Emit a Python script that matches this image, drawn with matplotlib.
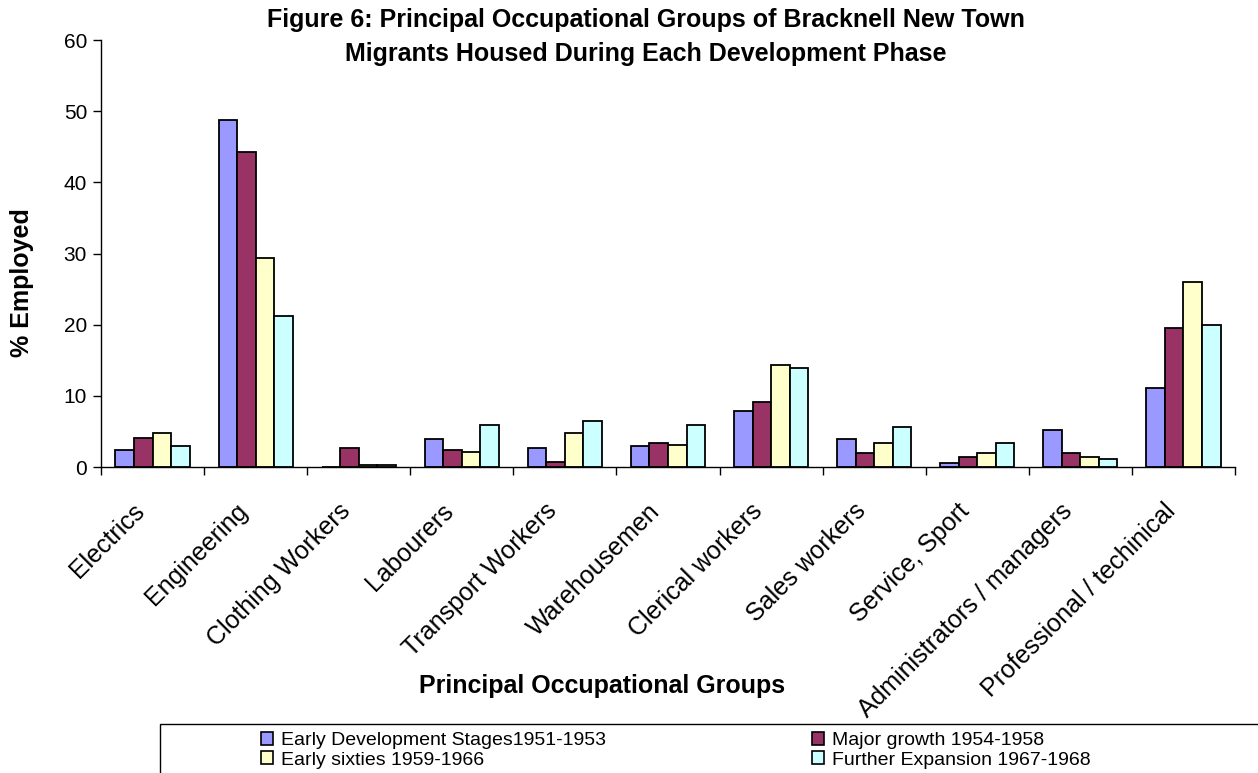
import matplotlib
matplotlib.use("Agg")
import matplotlib.pyplot as plt
import matplotlib.transforms as mtransforms
from matplotlib.patches import Rectangle
import numpy as np

plt.rcParams['font.family'] = ['Liberation Sans', 'DejaVu Sans']

# occupational groups and % employed per development phase
groups = ["Electrics", "Engineering", "Clothing Workers", "Labourers",
          "Transport Workers", "Warehousemen", "Clerical workers",
          "Sales workers", "Service, Sport", "Administrators / managers",
          "Professional / techinical"]
phases = ["Early Development Stages1951-1953", "Major growth 1954-1958",
          "Early sixties 1959-1966", "Further Expansion 1967-1968"]
early_dev = [2.4, 48.8, 0.0, 4.0, 2.7, 3.0, 7.8, 3.9, 0.5, 5.2, 11.1]
major_growth = [4.1, 44.2, 2.6, 2.4, 0.65, 3.4, 9.2, 2.0, 1.45, 2.0, 19.5]
early_sixties = [4.8, 29.3, 0.35, 2.1, 4.8, 3.1, 14.3, 3.4, 2.0, 1.45, 26.0]
further_exp = [3.0, 21.2, 0.25, 5.85, 6.4, 5.85, 13.95, 5.6, 3.4, 1.1, 20.0]
colours = ['#9999FF', '#993366', '#FFFFCC', '#CCFFFF']

W, H = 1258, 773
fig = plt.figure(figsize=(W / 100, H / 100), dpi=100)
ax = fig.add_axes([101 / W, 1 - 467 / H, (1235 - 101) / W, (467 - 40) / H])

series = [early_dev, major_growth, early_sixties, further_exp]
xs = np.arange(len(groups))
width = 0.18
for i, (vals, col, name) in enumerate(zip(series, colours, phases)):
    ax.bar(xs + (i - 1.5) * width, vals, width, color=col, edgecolor='black',
           linewidth=1.3, label=name)

ax.set_xlim(-0.5, len(groups) - 0.5)
ax.set_ylim(0, 60)
ax.set_yticks(range(0, 61, 10))
ax.tick_params(axis='y', direction='out', length=6, width=1, labelsize=15, pad=4)

# labels at category centres, tick marks at category boundaries
ax.set_xticks(xs)
ax.set_xticks(np.arange(len(groups) + 1) - 0.5, minor=True)
ax.tick_params(axis='x', which='major', length=0, pad=29, labelsize=18)
ax.tick_params(axis='x', which='minor', direction='out', length=6, width=1)
ax.set_xticklabels(groups, rotation=45, ha='right', va='center',
                   rotation_mode='anchor')
shift = mtransforms.ScaledTranslation(-12 / 100, 0, fig.dpi_scale_trans)
for lbl in ax.get_xticklabels():
    lbl.set_transform(lbl.get_transform() + shift)

for side in ('top', 'right'):
    ax.spines[side].set_visible(False)
for side in ('left', 'bottom'):
    ax.spines[side].set_linewidth(1)

fig.text(646 / W, 1 - 37 / H,
         "Figure 6: Principal Occupational Groups of Bracknell New Town\n"
         "Migrants Housed During Each Development Phase",
         ha='center', va='center', fontsize=18, fontweight='bold',
         linespacing=1.5)
fig.text(22 / W, 1 - 283 / H, "% Employed", rotation=90, ha='center',
         va='center', fontsize=18, fontweight='bold')
fig.text(602 / W, 1 - 686 / H, "Principal Occupational Groups", ha='center',
         va='center', fontsize=18, fontweight='bold')

# legend box runs off the right and bottom edges
fig.patches.append(Rectangle((160 / W, -0.1), 1.2, (1 - 724 / H) + 0.1,
                             transform=fig.transFigure, facecolor='white',
                             edgecolor='black', linewidth=1, zorder=0))
handles, labels = ax.get_legend_handles_labels()
order = [0, 2, 1, 3]
leg = fig.legend([handles[k] for k in order], [labels[k] for k in order],
                 ncol=2, loc='upper left',
                 bbox_to_anchor=(261 / W, 1 - 732 / H),
                 frameon=False, fontsize=14, borderpad=0, borderaxespad=0,
                 handlelength=0.62, handleheight=0.62, handletextpad=0.4,
                 labelspacing=0.12, columnspacing=10.6)
for p in leg.get_patches():
    p.set_linewidth(1.2)

fig.savefig("out.png", dpi=100)
